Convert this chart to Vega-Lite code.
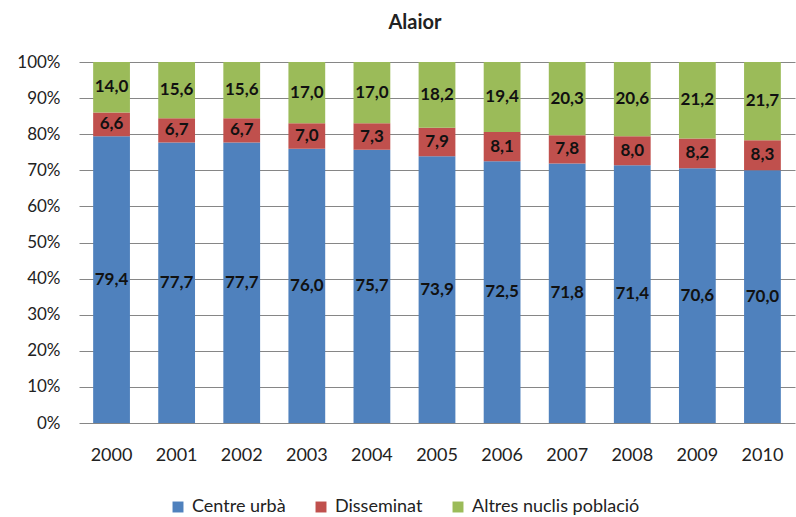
{
  "$schema": "https://vega.github.io/schema/vega-lite/v6.json",
  "autosize": "none",
  "width": 716,
  "height": 361,
  "padding": {"left": 79, "top": 62, "right": 1, "bottom": 94},
  "background": "white",
  "config": {
    "locale": {"number": {"decimal": ",", "thousands": ".", "grouping": [3], "currency": ["", " €"]}},
    "font": "Lato",
    "view": {"stroke": null},
    "axisY": {"title": null, "format": ".0%", "values": [0,0.1,0.2,0.3,0.4,0.5,0.6,0.7,0.8,0.9,1], "labelOverlap": false, "labelBound": false, "grid": true, "gridColor": "#868686", "gridWidth": 1, "ticks": false, "domain": false, "labelFontSize": 17, "labelColor": "#222", "labelPadding": 19, "labelFont": "Lato"}
  },
  "title": {"text": "Alaior", "fontSize": 20, "font": "Lato", "fontWeight": "bold", "color": "#222", "anchor": "middle", "dx": -22, "offset": 20},
  "data": {"values": [
    {"year": "2000", "s": "Centre urbà", "v": 79.4}, {"year": "2000", "s": "Disseminat", "v": 6.6}, {"year": "2000", "s": "Altres nuclis població", "v": 14.0},
    {"year": "2001", "s": "Centre urbà", "v": 77.7}, {"year": "2001", "s": "Disseminat", "v": 6.7}, {"year": "2001", "s": "Altres nuclis població", "v": 15.6},
    {"year": "2002", "s": "Centre urbà", "v": 77.7}, {"year": "2002", "s": "Disseminat", "v": 6.7}, {"year": "2002", "s": "Altres nuclis població", "v": 15.6},
    {"year": "2003", "s": "Centre urbà", "v": 76.0}, {"year": "2003", "s": "Disseminat", "v": 7.0}, {"year": "2003", "s": "Altres nuclis població", "v": 17.0},
    {"year": "2004", "s": "Centre urbà", "v": 75.7}, {"year": "2004", "s": "Disseminat", "v": 7.3}, {"year": "2004", "s": "Altres nuclis població", "v": 17.0},
    {"year": "2005", "s": "Centre urbà", "v": 73.9}, {"year": "2005", "s": "Disseminat", "v": 7.9}, {"year": "2005", "s": "Altres nuclis població", "v": 18.2},
    {"year": "2006", "s": "Centre urbà", "v": 72.5}, {"year": "2006", "s": "Disseminat", "v": 8.1}, {"year": "2006", "s": "Altres nuclis població", "v": 19.4},
    {"year": "2007", "s": "Centre urbà", "v": 71.8}, {"year": "2007", "s": "Disseminat", "v": 7.8}, {"year": "2007", "s": "Altres nuclis població", "v": 20.3},
    {"year": "2008", "s": "Centre urbà", "v": 71.4}, {"year": "2008", "s": "Disseminat", "v": 8.0}, {"year": "2008", "s": "Altres nuclis població", "v": 20.6},
    {"year": "2009", "s": "Centre urbà", "v": 70.6}, {"year": "2009", "s": "Disseminat", "v": 8.2}, {"year": "2009", "s": "Altres nuclis població", "v": 21.2},
    {"year": "2010", "s": "Centre urbà", "v": 70.0}, {"year": "2010", "s": "Disseminat", "v": 8.3}, {"year": "2010", "s": "Altres nuclis població", "v": 21.7}
  ]},
  "transform": [
    {"calculate": "indexof(['Centre urbà','Disseminat','Altres nuclis població'], datum.s)", "as": "ord"},
    {"stack": "v", "groupby": ["year"], "sort": [{"field": "ord", "order": "ascending"}], "offset": "normalize", "as": ["y0", "y1"]},
    {"calculate": "(datum.y0 + datum.y1) / 2", "as": "ymid"}
  ],
  "encoding": {
    "x": {"field": "year", "type": "nominal", "scale": {"paddingInner": 0.435, "paddingOuter": 0.2175},
      "axis": {"title": null, "labelAngle": 0, "ticks": false, "domain": false, "labelFontSize": 18, "labelColor": "#222", "labelPadding": 23, "labelFont": "Lato"}}
  },
  "layer": [
    {
      "mark": {"type": "bar"},
      "encoding": {
        "y": {"field": "y0", "type": "quantitative", "scale": {"domain": [0, 1]}, "title": null},
        "y2": {"field": "y1"},
        "color": {"field": "s", "type": "nominal",
          "scale": {"domain": ["Centre urbà", "Disseminat", "Altres nuclis població"], "range": ["#4F81BD", "#C0504D", "#9BBB59"]},
          "legend": {"title": null, "orient": "none", "direction": "horizontal", "legendX": 90, "legendY": 436, "symbolType": "square", "symbolSize": 120, "symbolStrokeWidth": 0, "labelFontSize": 18, "labelLimit": 400, "labelColor": "#222", "labelFont": "Lato", "columnPadding": 26, "labelOffset": 5}
        }
      }
    },
    {
      "mark": {"type": "text", "fontSize": 17, "fontWeight": "bold", "color": "#111", "font": "Lato"},
      "encoding": {
        "y": {"field": "ymid", "type": "quantitative", "title": null},
        "text": {"field": "v", "type": "quantitative", "format": ".1f"}
      }
    }
  ]
}
